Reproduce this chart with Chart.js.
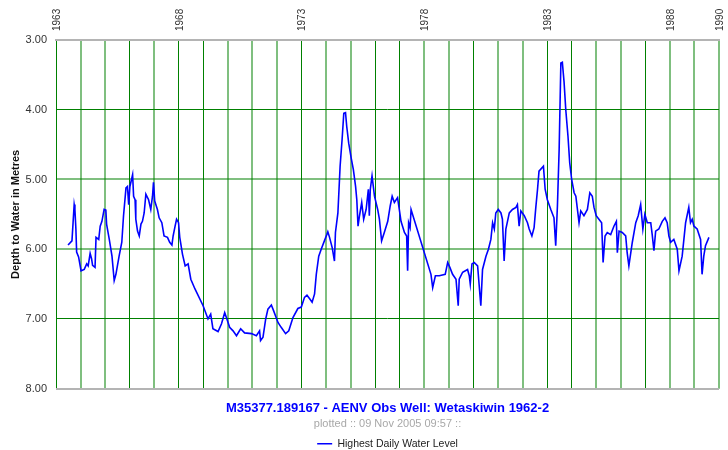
<!DOCTYPE html>
<html>
<head>
<meta charset="utf-8">
<script src="https://cdn.jsdelivr.net/npm/chart.js@4"></script>
<style>
  html, body { margin: 0; padding: 0; background: #fff; }
  #wrap { width: 728px; height: 450px; }
</style>
</head>
<body>
<div id="wrap"><canvas id="wellChart" width="728" height="450"></canvas></div>
<script>
// --- Data (decimal year, depth in metres) ---
const years = [
  1963.49, 1963.65, 1963.74, 1963.77, 1963.81, 1963.84, 1963.92, 1964.02, 1964.15, 1964.25,
  1964.31, 1964.39, 1964.45, 1964.49, 1964.59, 1964.63, 1964.74, 1964.80, 1964.87, 1964.96,
  1965.03, 1965.06, 1965.17, 1965.28, 1965.37, 1965.44, 1965.57, 1965.68, 1965.75, 1965.85,
  1965.91, 1965.96, 1966.01, 1966.12, 1966.16, 1966.22, 1966.25, 1966.32, 1966.39, 1966.46,
  1966.52, 1966.59, 1966.66, 1966.77, 1966.86, 1966.93, 1966.97, 1967.02, 1967.13, 1967.20,
  1967.31, 1967.40, 1967.54, 1967.63, 1967.72, 1967.77, 1967.85, 1967.91, 1967.99, 1968.04,
  1968.15, 1968.26, 1968.38, 1968.49, 1968.66, 1968.99, 1969.19, 1969.30, 1969.39, 1969.60,
  1969.74, 1969.87, 1969.96, 1970.07, 1970.21, 1970.35, 1970.52, 1970.68, 1970.96, 1971.16,
  1971.29, 1971.33, 1971.43, 1971.54, 1971.63, 1971.77, 1971.86, 1972.04, 1972.17, 1972.35,
  1972.48, 1972.65, 1972.85, 1972.99, 1973.12, 1973.22, 1973.33, 1973.43, 1973.53, 1973.60,
  1973.70, 1973.80, 1973.93, 1974.03, 1974.07, 1974.14, 1974.25, 1974.34, 1974.38, 1974.48,
  1974.57, 1974.65, 1974.72, 1974.79, 1974.84, 1974.92, 1975.02, 1975.11, 1975.20, 1975.25,
  1975.30, 1975.36, 1975.45, 1975.53, 1975.63, 1975.72, 1975.76, 1975.80, 1975.87, 1975.97,
  1976.10, 1976.17, 1976.26, 1976.37, 1976.51, 1976.61, 1976.69, 1976.78, 1976.91, 1976.98,
  1977.05, 1977.19, 1977.28, 1977.32, 1977.36, 1977.42, 1977.46, 1978.27, 1978.34, 1978.45,
  1978.61, 1978.85, 1978.95, 1979.04, 1979.15, 1979.29, 1979.38, 1979.42, 1979.56, 1979.76,
  1979.83, 1979.87, 1979.94, 1980.03, 1980.17, 1980.30, 1980.37, 1980.51, 1980.61, 1980.71,
  1980.78, 1980.85, 1980.91, 1981.01, 1981.12, 1981.18, 1981.25, 1981.32, 1981.46, 1981.59,
  1981.73, 1981.79, 1981.86, 1981.93, 1982.07, 1982.20, 1982.27, 1982.38, 1982.47, 1982.54,
  1982.61, 1982.67, 1982.85, 1982.92, 1983.01, 1983.15, 1983.28, 1983.35, 1983.42, 1983.49,
  1983.56, 1983.62, 1983.69, 1983.76, 1983.85, 1983.92, 1984.00, 1984.10, 1984.17, 1984.30,
  1984.37, 1984.50, 1984.64, 1984.74, 1984.84, 1984.91, 1985.00, 1985.11, 1985.22, 1985.28,
  1985.36, 1985.45, 1985.59, 1985.72, 1985.82, 1985.86, 1985.93, 1986.06, 1986.20, 1986.26,
  1986.33, 1986.47, 1986.61, 1986.71, 1986.81, 1986.90, 1986.98, 1987.08, 1987.22, 1987.28,
  1987.35, 1987.42, 1987.55, 1987.69, 1987.80, 1987.89, 1987.96, 1988.03, 1988.16, 1988.30,
  1988.37, 1988.50, 1988.57, 1988.64, 1988.77, 1988.84, 1988.91, 1988.98, 1989.11, 1989.25,
  1989.31, 1989.38, 1989.45, 1989.59
];
const depths = [
  5.94, 5.88, 5.36, 5.43, 5.71, 6.04, 6.11, 6.31, 6.29, 6.21,
  6.24, 6.06, 6.14, 6.23, 6.26, 5.83, 5.86, 5.67, 5.60, 5.43,
  5.44, 5.64, 5.86, 6.10, 6.45, 6.36, 6.10, 5.90, 5.52, 5.12,
  5.10, 5.36, 5.10, 4.93, 5.24, 5.29, 5.57, 5.74, 5.81, 5.64,
  5.60, 5.48, 5.21, 5.29, 5.43, 5.24, 5.04, 5.31, 5.43, 5.55,
  5.62, 5.81, 5.83, 5.90, 5.94, 5.81, 5.67, 5.57, 5.62, 5.83,
  6.07, 6.24, 6.21, 6.43, 6.57, 6.81, 7.00, 6.93, 7.14, 7.18,
  7.07, 6.91, 7.00, 7.12, 7.17, 7.24, 7.14, 7.20, 7.21, 7.24,
  7.17, 7.31, 7.26, 7.00, 6.86, 6.80, 6.88, 7.05, 7.12, 7.21,
  7.17, 6.98, 6.85, 6.83, 6.69, 6.66, 6.71, 6.76, 6.64, 6.36,
  6.10, 6.00, 5.88, 5.79, 5.75, 5.83, 5.98, 6.17, 5.76, 5.48,
  4.81, 4.43, 4.05, 4.04, 4.24, 4.48, 4.69, 4.86, 5.10, 5.29,
  5.67, 5.52, 5.33, 5.57, 5.43, 5.14, 5.52, 5.14, 4.95, 5.24,
  5.43, 5.57, 5.88, 5.76, 5.60, 5.38, 5.24, 5.33, 5.26, 5.43,
  5.60, 5.76, 5.81, 6.31, 5.62, 5.69, 5.43, 6.36, 6.55, 6.38,
  6.38, 6.36, 6.19, 6.26, 6.36, 6.43, 6.81, 6.43, 6.33, 6.29,
  6.38, 6.50, 6.21, 6.19, 6.24, 6.81, 6.29, 6.10, 6.00, 5.86,
  5.62, 5.71, 5.48, 5.43, 5.48, 5.57, 6.17, 5.71, 5.48, 5.43,
  5.40, 5.36, 5.67, 5.45, 5.52, 5.62, 5.71, 5.81, 5.69, 5.40,
  5.14, 4.88, 4.81, 5.14, 5.29, 5.43, 5.55, 5.95, 5.38, 4.57,
  3.33, 3.32, 3.60, 4.00, 4.38, 4.76, 5.00, 5.19, 5.24, 5.62,
  5.45, 5.52, 5.43, 5.19, 5.24, 5.40, 5.52, 5.57, 5.62, 6.19,
  5.81, 5.76, 5.79, 5.67, 5.60, 6.05, 5.74, 5.76, 5.81, 6.05,
  6.24, 5.90, 5.62, 5.52, 5.36, 5.71, 5.50, 5.62, 5.62, 5.79,
  6.02, 5.74, 5.71, 5.60, 5.55, 5.62, 5.81, 5.90, 5.86, 6.00,
  6.31, 6.10, 5.86, 5.62, 5.40, 5.62, 5.57, 5.67, 5.71, 5.86,
  6.36, 6.10, 5.95, 5.83
];
const labeledYears = [1963, 1968, 1973, 1978, 1983, 1988, 1990];
const depthTicks = [3, 4, 5, 6, 7, 8];

const chartTitle = 'M35377.189167 - AENV Obs Well: Wetaskiwin 1962-2';
const chartSubtitle = 'plotted :: 09 Nov 2005 09:57 ::';
const seriesName = 'Highest Daily Water Level';
const yAxisTitle = 'Depth to Water in Metres';

// grid lines that look anti-aliased (soft) in the original
const softYears = [1964, 1965, 1967, 1970, 1971, 1972, 1974, 1975, 1978, 1979,
                   1981, 1982, 1985, 1986, 1988, 1989, 1990];
const softDepths = [5, 6];

const GREEN = '#008000';
const SOFT_GREEN = 'rgba(0,128,0,0.5)';
const BORDER_GRAY = '#b4b4b4';
const FONT = "'Liberation Sans', Arial, sans-serif";

const points = years.map((yr, i) => ({ x: yr, y: depths[i] }));

const ctx = document.getElementById('wellChart').getContext('2d');
new Chart(ctx, {
  type: 'line',
  data: {
    datasets: [{
      label: seriesName,
      data: points,
      borderColor: '#0000ff',
      backgroundColor: '#0000ff',
      borderWidth: 1.6,
      pointRadius: 0,
      pointStyle: 'line',
      tension: 0,
      fill: false
    }]
  },
  options: {
    responsive: false,
    animation: false,
    layout: { padding: { left: 0, right: 7, top: 0, bottom: -9 } },
    plugins: {
      tooltip: { enabled: false },
      title: {
        display: true,
        text: chartTitle,
        position: 'bottom',
        fullSize: false,
        weight: 1,
        color: '#0000ff',
        font: { family: FONT, size: 13, weight: 'bold' },
        padding: { top: 12, bottom: 0 }
      },
      subtitle: {
        display: true,
        text: chartSubtitle,
        position: 'bottom',
        fullSize: false,
        weight: 2,
        color: '#a8a8a8',
        font: { family: FONT, size: 11 },
        padding: { top: 1, bottom: 0 }
      },
      legend: {
        display: true,
        position: 'bottom',
        fullSize: false,
        weight: 3,
        labels: {
          usePointStyle: true,
          pointStyleWidth: 15,
          color: '#222',
          font: { family: FONT, size: 10.5 },
          padding: 8
        }
      }
    },
    scales: {
      x: {
        type: 'linear',
        position: 'top',
        min: 1963,
        max: 1990,
        afterFit: s => { s.height = 40; },
        border: { display: true, color: BORDER_GRAY, width: 2 },
        grid: {
          drawTicks: false,
          color: c => softYears.includes(c.tick && c.tick.value) ? SOFT_GREEN : GREEN,
          lineWidth: c => softYears.includes(c.tick && c.tick.value) ? 2 : 1
        },
        ticks: {
          stepSize: 1,
          autoSkip: false,
          minRotation: 90,
          maxRotation: 90,
          padding: 9,
          labelOffset: 13,
          color: '#333',
          font: { family: FONT, size: 10 },
          callback: v => labeledYears.includes(v) ? String(v) : ''
        }
      },
      y: {
        type: 'linear',
        reverse: true,
        min: depthTicks[0],
        max: depthTicks[depthTicks.length - 1],
        afterFit: s => { s.width = 56; },
        border: { display: false },
        grid: {
          drawTicks: false,
          color: c => {
            const v = c.tick && c.tick.value;
            if (v === 3 || v === 8) return BORDER_GRAY;
            return softDepths.includes(v) ? SOFT_GREEN : GREEN;
          },
          lineWidth: c => {
            const v = c.tick && c.tick.value;
            if (v === 3 || v === 8) return 2;
            return softDepths.includes(v) ? 2 : 1;
          }
        },
        ticks: {
          stepSize: 1,
          padding: 9,
          color: '#333',
          font: { family: FONT, size: 11 },
          callback: v => v.toFixed(2)
        },
        title: {
          display: true,
          text: yAxisTitle,
          color: '#111',
          font: { family: FONT, size: 11, weight: 'bold' },
          padding: { top: 9, bottom: 0 }
        }
      }
    }
  }
});
</script>
</body>
</html>
